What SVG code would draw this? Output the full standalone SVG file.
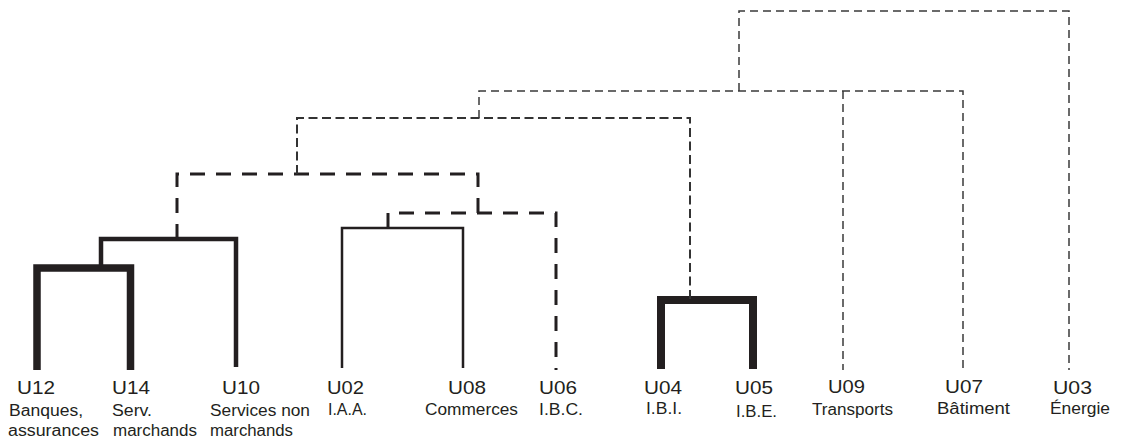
<svg xmlns="http://www.w3.org/2000/svg" width="1127" height="439" viewBox="0 0 1127 439">
  <style>
    .link { fill: none; stroke: #231f20; stroke-linejoin: miter; stroke-linecap: butt; }
    .w8 { stroke-width: 8; }
    .w7 { stroke-width: 7.5; }
    .w4 { stroke-width: 4.5; }
    .w2 { stroke-width: 2.5; }
    .dA { stroke-width: 3; stroke-dasharray: 15 11; }
    .dB { stroke-width: 2; stroke-dasharray: 9 4.5; stroke: #333; }
    .dC { stroke-width: 1.5; stroke-dasharray: 8 5; stroke: #3a3a3a; }
    text { font-family: "Liberation Sans", Arial, sans-serif; fill: #231f20; }
    .code { font-size: 18.5px; text-anchor: middle; }
    .lbl { font-size: 16px; }
  </style>

  <!-- dendrogram links -->
  <g id="connectors">
    <!-- solid merges -->
    <path class="link w7" d="M37,370 V268 H130.5 V370"/>
    <path class="link w4" d="M101,268 V239 H236 V367"/>
    <path class="link w2" d="M342,368 V228 H463 V368"/>
    <path class="link w8" d="M661,369 V300 H753 V369"/>
    <!-- dashed merges -->
    <path class="link dA" d="M177,239 V174 H478 V213"/>
    <path class="link dA" d="M388,228 V213 H556 V370"/>
    <path class="link dB" d="M297,174 V118 H690 V300"/>
    <path class="link dC" d="M479,118 V91 H963 V370"/>
    <path class="link dC" d="M843,91 V370"/>
    <path class="link dC" d="M739,91 V11 H1069 V370"/>
  </g>

  <!-- leaves -->
  <g id="U12">
    <text class="code" x="36" y="394" textLength="38" lengthAdjust="spacingAndGlyphs">U12</text>
    <text class="lbl" x="9" y="416" textLength="74" lengthAdjust="spacingAndGlyphs">Banques,</text>
    <text class="lbl" x="8" y="436" textLength="91" lengthAdjust="spacingAndGlyphs">assurances</text>
  </g>
  <g id="U14">
    <text class="code" x="131" y="394" textLength="38" lengthAdjust="spacingAndGlyphs">U14</text>
    <text class="lbl" x="112" y="416" textLength="40" lengthAdjust="spacingAndGlyphs">Serv.</text>
    <text class="lbl" x="113" y="436" textLength="84" lengthAdjust="spacingAndGlyphs">marchands</text>
  </g>
  <g id="U10">
    <text class="code" x="241" y="394" textLength="38" lengthAdjust="spacingAndGlyphs">U10</text>
    <text class="lbl" x="210" y="416" textLength="100" lengthAdjust="spacingAndGlyphs">Services non</text>
    <text class="lbl" x="210" y="436" textLength="83" lengthAdjust="spacingAndGlyphs">marchands</text>
  </g>
  <g id="U02">
    <text class="code" x="345.5" y="394" textLength="37" lengthAdjust="spacingAndGlyphs">U02</text>
    <text class="lbl" x="328" y="415" textLength="39" lengthAdjust="spacingAndGlyphs">I.A.A.</text>
  </g>
  <g id="U08">
    <text class="code" x="467" y="394" textLength="38" lengthAdjust="spacingAndGlyphs">U08</text>
    <text class="lbl" x="425" y="415" textLength="93" lengthAdjust="spacingAndGlyphs">Commerces</text>
  </g>
  <g id="U06">
    <text class="code" x="558" y="394" textLength="38" lengthAdjust="spacingAndGlyphs">U06</text>
    <text class="lbl" x="539" y="415" textLength="44" lengthAdjust="spacingAndGlyphs">I.B.C.</text>
  </g>
  <g id="U04">
    <text class="code" x="663" y="394" textLength="38" lengthAdjust="spacingAndGlyphs">U04</text>
    <text class="lbl" x="646" y="414" textLength="36" lengthAdjust="spacingAndGlyphs">I.B.I.</text>
  </g>
  <g id="U05">
    <text class="code" x="754" y="394" textLength="38" lengthAdjust="spacingAndGlyphs">U05</text>
    <text class="lbl" x="736" y="417" textLength="41" lengthAdjust="spacingAndGlyphs">I.B.E.</text>
  </g>
  <g id="U09">
    <text class="code" x="846.5" y="393" textLength="37" lengthAdjust="spacingAndGlyphs">U09</text>
    <text class="lbl" x="812" y="415" textLength="81" lengthAdjust="spacingAndGlyphs">Transports</text>
  </g>
  <g id="U07">
    <text class="code" x="964" y="393" textLength="38" lengthAdjust="spacingAndGlyphs">U07</text>
    <text class="lbl" x="937" y="414" textLength="73" lengthAdjust="spacingAndGlyphs">Bâtiment</text>
  </g>
  <g id="U03">
    <text class="code" x="1072.5" y="394" textLength="39" lengthAdjust="spacingAndGlyphs">U03</text>
    <text class="lbl" x="1050" y="414" textLength="60" lengthAdjust="spacingAndGlyphs">Énergie</text>
  </g>
</svg>
